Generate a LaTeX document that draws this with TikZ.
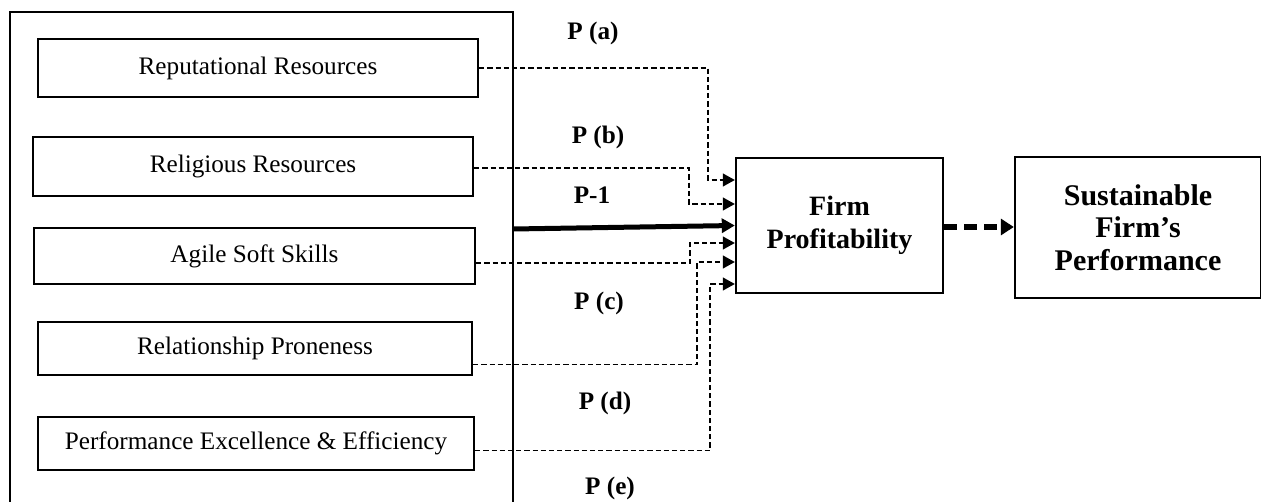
\documentclass[tikz,border=0pt]{standalone}
\usepackage{fontspec}
\setmainfont{Liberation Serif}
\usetikzlibrary{arrows.meta}
\begin{document}
\begin{tikzpicture}[x=0.5pt,y=-0.5pt,
  box/.style={draw,line width=1.1pt,inner sep=0pt,align=center,font=\fontsize{12.6}{15}\selectfont},
  plab/.style={inner sep=0pt,font=\fontsize{12.6}{15}\selectfont\bfseries},
  dl/.style={line width=0.6pt,dash pattern=on 2.6pt off 1.5pt,-{Triangle[length=6pt,width=6.5pt]}},
  thk/.style={line width=2.5pt,-{Triangle[length=6.5pt,width=7pt]}},
  thkd/.style={line width=2.6pt,dash pattern=on 6.5pt off 3.5pt,-{Triangle[length=6.5pt,width=8pt]}}]
\useasboundingbox (0,0) rectangle (1261,502);
\clip (0,0) rectangle (1261,502);
% outer frame (open at bottom)
\draw[line width=1pt] (10,520) -- (10,12) -- (513,12) -- (513,520);
% left boxes
\node[box,minimum width=220pt,minimum height=29pt] (rep) at (258,68) {Reputational Resources};
\node[box,minimum width=220pt,minimum height=29.5pt] (rel) at (253,166.5) {Religious Resources};
\node[box,minimum width=220.5pt,minimum height=28pt] (agi) at (254.5,256) {Agile Soft Skills};
\node[box,minimum width=217pt,minimum height=26.5pt] (relp) at (255,348.5) {Relationship Proneness};
\node[box,minimum width=218pt,minimum height=26.5pt] (perf) at (256,443.5) {Performance Excellence \& Efficiency};
% right boxes
\node[box,line width=1.2pt,minimum width=103.5pt,minimum height=67.5pt,font=\fontsize{14}{16.5}\selectfont\bfseries] (firm) at (839.5,225.5) {Firm\\Profitability};
\node[box,line width=1.2pt,minimum width=123pt,minimum height=70.5pt,font=\fontsize{15}{16.3}\selectfont\bfseries] (sus) at (1138,227.5) {Sustainable\\Firm’s\\Performance};
% labels
\node[plab] (la) at (593,33) {P (a)};
\node[plab] (lb) at (598,137) {P (b)};
\node[plab] (l1) at (592,195) {P-1};
\node[plab] (lc) at (599,303) {P (c)};
\node[plab] (ld) at (605,403) {P (d)};
\node[plab] (le) at (610,488) {P (e)};
% arrow targets
\coordinate (ta) at ([yshift=22.75pt]firm.west);
\coordinate (tb) at ([yshift=10.75pt]firm.west);
\coordinate (tc) at ([yshift=-8.75pt]firm.west);
\coordinate (td) at ([yshift=-18.25pt]firm.west);
\coordinate (te) at ([yshift=-29.25pt]firm.west);
\coordinate (xa) at (708,0);
\coordinate (xb) at (689,0);
\coordinate (xc) at (690,0);
\coordinate (xd) at (697,0);
\coordinate (xe) at (710,0);
\coordinate (o1) at (513,229);
% connectors
\draw[dl] (rep.east) -- (rep.east -| xa) |- (ta);
\draw[dl] ([yshift=-0.75pt]rel.east) -- ([yshift=-0.75pt]rel.east -| xb) |- (tb);
\draw[dl] ([yshift=-3.5pt]agi.east) -- ([yshift=-3.5pt]agi.east -| xc) |- (tc);
\draw[dl] ([yshift=-8pt]relp.east) -- ([yshift=-8pt]relp.east -| xd) |- (td);
\draw[dl] ([yshift=-3.5pt]perf.east) -- ([yshift=-3.5pt]perf.east -| xe) |- (te);
\draw[thk] (o1) -- (firm.west);
\draw[thkd] ([yshift=-0.75pt]firm.east) -- ([yshift=-0.75pt]firm.east -| sus.west);
\end{tikzpicture}
\end{document}
